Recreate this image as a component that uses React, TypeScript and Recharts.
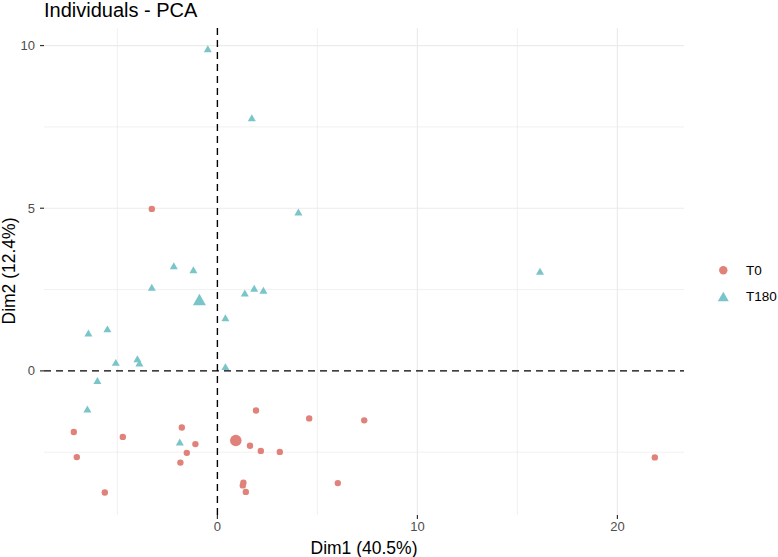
import React from "react";
import {
  ScatterChart,
  Scatter,
  XAxis,
  YAxis,
  ReferenceLine,
} from "recharts";

const T0_COLOR = "#E0817A";
const T180_COLOR = "#7AC5C9";

const t0X = [-3.28, -7.18, -4.73, -7.03, -5.63, -1.78, -1.1, -1.53, -1.85, 1.93, 1.63, 2.17, 3.12, 1.3, 1.27, 1.42, 4.59, 7.34, 6.02, 21.87];
const t0Y = [4.98, -1.88, -2.03, -2.65, -3.74, -1.74, -2.25, -2.52, -2.82, -1.22, -2.3, -2.46, -2.49, -3.44, -3.52, -3.72, -1.46, -1.52, -3.45, -2.66];

const t180X = [-0.48, 1.72, 4.05, -2.18, -1.2, -3.28, 1.37, 1.84, 2.3, 0.4, -6.45, -5.5, -5.08, -4.0, -3.9, 0.4, 16.13, -6.0, -6.5, -1.88];
const t180Y = [9.88, 7.76, 4.86, 3.21, 3.09, 2.55, 2.37, 2.52, 2.46, 1.61, 1.14, 1.27, 0.24, 0.35, 0.22, 0.11, 3.04, -0.32, -1.19, -2.21];

const centroidT0 = [0.92, -2.14];
const centroidT180 = [-0.9, 2.16];

const xTicks = [0, 10, 20];
const yTicks = [0, 5, 10];
const xMajor = [10, 20];
const xMinor = [-5, 5, 15];
const yMajor = [5, 10];
const yMinor = [-2.5, 2.5, 7.5];

const xDomain = [-8.67, 23.33];
const yDomain = [-4.43, 10.54];

const t0Data = t0X.map((x, i) => ({ x, y: t0Y[i] }));
const t180Data = t180X.map((x, i) => ({ x, y: t180Y[i] }));

const font = "'Liberation Sans', Arial, sans-serif";

function Dot(r: number, color: string) {
  return (props: any) => <circle cx={props.cx} cy={props.cy} r={r} fill={color} />;
}

function Tri(s: number, color: string) {
  return (props: any) => {
    const { cx, cy } = props;
    const h = s * 0.87;
    const pts = `${cx},${cy - h * 0.6} ${cx - s / 2},${cy + h * 0.4} ${cx + s / 2},${cy + h * 0.4}`;
    return <polygon points={pts} fill={color} />;
  };
}

export default function App() {
  return (
    <div style={{ position: "absolute", left: 0, top: 0, width: 778, height: 557, background: "#fff", fontFamily: font }}>
      <div style={{ position: "absolute", left: 44, top: 0, fontSize: 20, lineHeight: "20px", color: "#000", whiteSpace: "nowrap" }}>
        Individuals - PCA
      </div>
      <ScatterChart width={778} height={557} margin={{ top: 28, right: 94, bottom: 0, left: 0 }}>
        {xMinor.map((v) => (
          <ReferenceLine key={"xm" + v} x={v} stroke="#EBEBEB" strokeWidth={0.7} />
        ))}
        {yMinor.map((v) => (
          <ReferenceLine key={"ym" + v} y={v} stroke="#EBEBEB" strokeWidth={0.7} />
        ))}
        {xMajor.map((v) => (
          <ReferenceLine key={"xM" + v} x={v} stroke="#EBEBEB" strokeWidth={1.2} />
        ))}
        {yMajor.map((v) => (
          <ReferenceLine key={"yM" + v} y={v} stroke="#EBEBEB" strokeWidth={1.2} />
        ))}
        <XAxis
          type="number"
          dataKey="x"
          domain={xDomain}
          ticks={xTicks}
          allowDataOverflow
          height={42}
          axisLine={false}
          tickSize={4}
          tickMargin={3}
          tickLine={{ stroke: "#333", strokeWidth: 1.2 }}
          tick={{ fill: "#4D4D4D", fontSize: 13, fontFamily: font }}
        />
        <YAxis
          type="number"
          dataKey="y"
          domain={yDomain}
          ticks={yTicks}
          allowDataOverflow
          width={44}
          axisLine={false}
          tickSize={4}
          tickMargin={5}
          tickLine={{ stroke: "#333", strokeWidth: 1.2 }}
          tick={{ fill: "#4D4D4D", fontSize: 13, fontFamily: font }}
        />
        <ReferenceLine x={0} stroke="#000" strokeWidth={1.4} strokeDasharray="7 5" />
        <ReferenceLine y={0} stroke="#000" strokeWidth={1.4} strokeDasharray="7 5" />
        <Scatter data={t0Data} shape={Dot(3.2, T0_COLOR)} isAnimationActive={false} />
        <Scatter data={t180Data} shape={Tri(8, T180_COLOR)} isAnimationActive={false} />
        <Scatter data={[{ x: centroidT0[0], y: centroidT0[1] }]} shape={Dot(5.8, T0_COLOR)} isAnimationActive={false} />
        <Scatter data={[{ x: centroidT180[0], y: centroidT180[1] }]} shape={Tri(13, T180_COLOR)} isAnimationActive={false} />
      </ScatterChart>
      <div
        style={{
          position: "absolute",
          left: 264,
          width: 200,
          textAlign: "center",
          top: 538,
          fontSize: 17.5,
          lineHeight: "20px",
          color: "#000",
          whiteSpace: "nowrap",
        }}
      >
        Dim1 (40.5%)
      </div>
      <div
        style={{
          position: "absolute",
          left: 9,
          top: 271,
          fontSize: 17.5,
          lineHeight: "20px",
          color: "#000",
          whiteSpace: "nowrap",
          transform: "translate(-50%, -50%) rotate(-90deg)",
        }}
      >
        Dim2 (12.4%)
      </div>
      <svg style={{ position: "absolute", left: 710, top: 258 }} width={68} height={50}>
        <circle cx={13.3} cy={12.3} r={4.2} fill={T0_COLOR} />
        <polygon points="13.3,33.7 7.8,43.2 18.8,43.2" fill={T180_COLOR} />
        <text x={36} y={17} fontSize={13.5} fill="#000" fontFamily={font}>T0</text>
        <text x={36} y={43} fontSize={13.5} fill="#000" fontFamily={font}>T180</text>
      </svg>
    </div>
  );
}
